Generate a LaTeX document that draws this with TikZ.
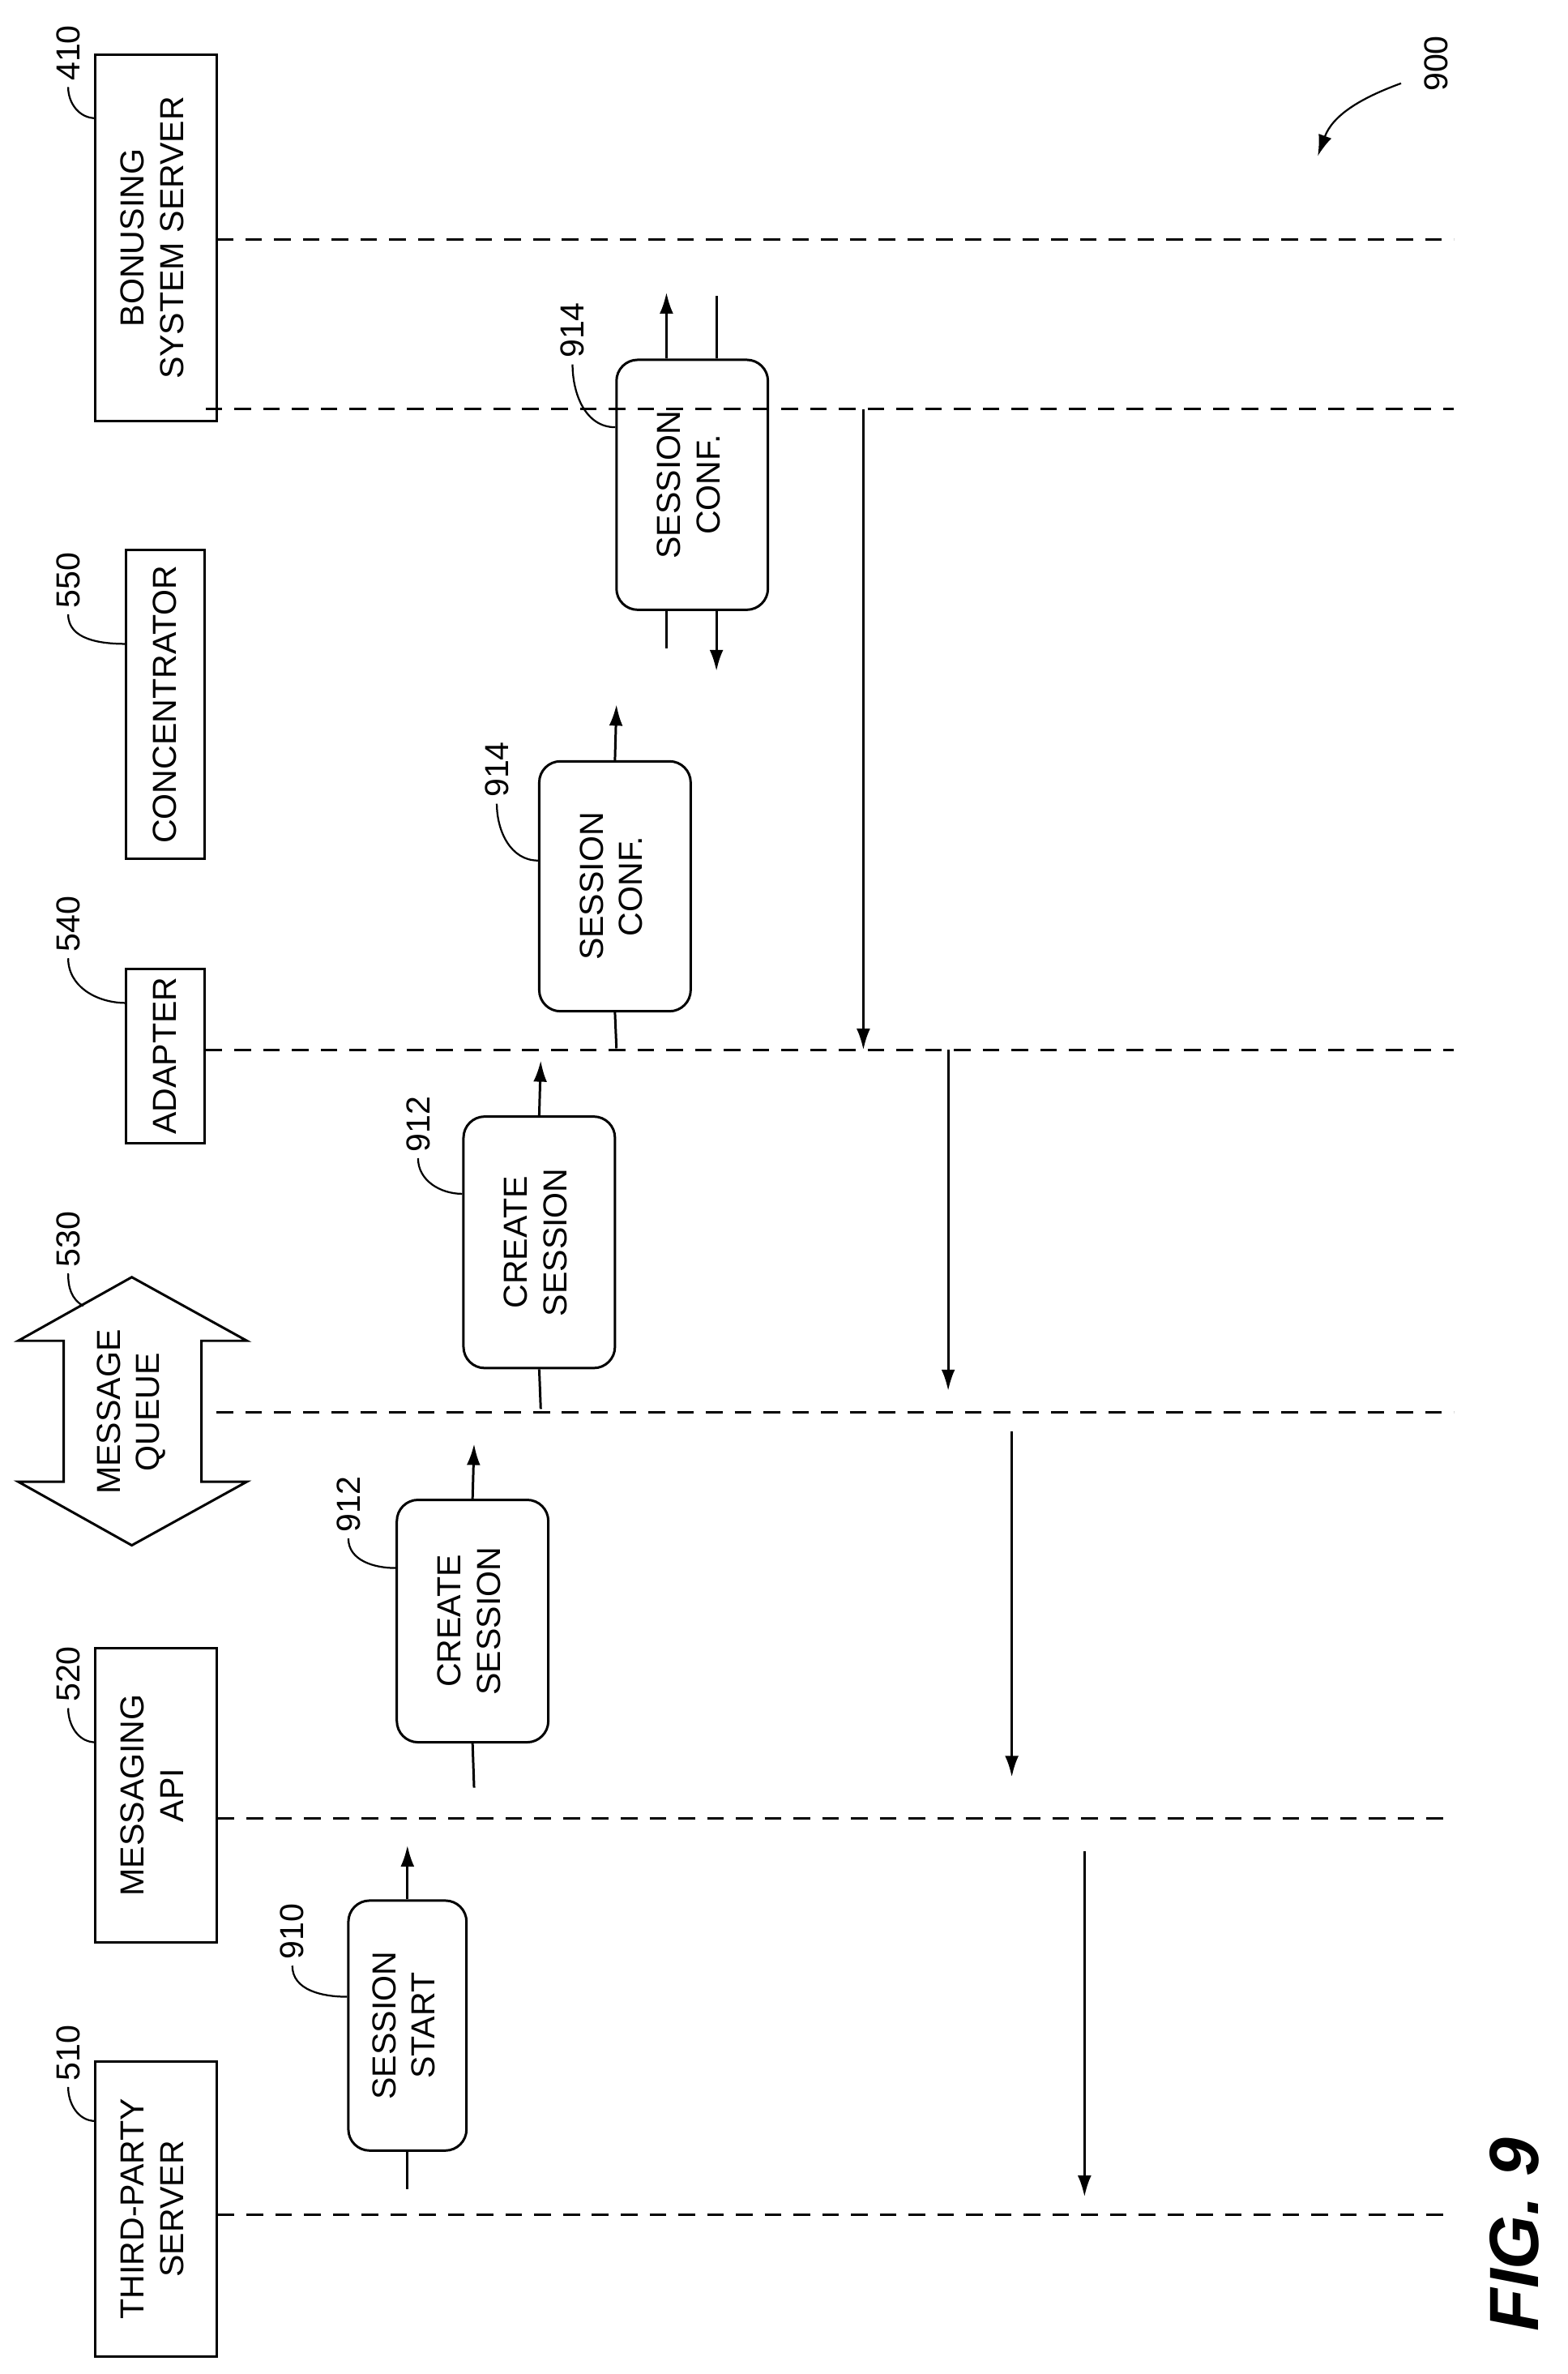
\documentclass[tikz,border=0pt]{standalone}
\usepackage{fontspec}
\setmainfont{Liberation Sans}
\usetikzlibrary{positioning,arrows.meta}
\begin{document}
\begin{tikzpicture}[
  x=1pt, y=-1pt,
  line width=1.6pt,
  >={Latex[length=14pt,width=9pt]},
  every node/.style={font=\fontsize{22}{26}\selectfont},
  entity/.style={draw, rectangle, inner sep=0pt},
  stepbox/.style={draw, rectangle, rounded corners=14pt, inner sep=0pt},
  lifeline/.style={dashed, dash pattern=on 11pt off 8pt},
  leader/.style={line width=1.2pt},
  refnum/.style={rotate=90}
  ]
  \useasboundingbox (0,0) rectangle (1035,1567);

  % --- entita' ---
  \node[entity, minimum width=80pt, minimum height=242pt] (b410) at (103,157)
    {\rotatebox{90}{\begin{tabular}{c}BONUSING\\SYSTEM SERVER\end{tabular}}};
  \node[entity, minimum width=52pt, minimum height=204pt] (b550) at (109,465)
    {\rotatebox{90}{CONCENTRATOR}};
  \node[entity, minimum width=52pt, minimum height=115pt] (b540) at (109,697)
    {\rotatebox{90}{ADAPTER}};
  \node[entity, minimum width=80pt, minimum height=194pt] (b520) at (103,1185)
    {\rotatebox{90}{\begin{tabular}{c}MESSAGING\\API\end{tabular}}};
  \node[entity, minimum width=80pt, minimum height=195pt] (b510) at (103,1458)
    {\rotatebox{90}{\begin{tabular}{c}THIRD-PARTY\\SERVER\end{tabular}}};

  % coda messaggi (doppia freccia)
  \draw (42,885) -- (12,885) -- (87,843) -- (163,885) -- (133,885) -- (133,978)
    -- (163,978) -- (87,1020) -- (12,978) -- (42,978) -- cycle;
  \node (b530) at (87,932)
    {\rotatebox{90}{\begin{tabular}{c}MESSAGE\\QUEUE\end{tabular}}};
  \coordinate (q530) at (143,932);

  % --- linee di vita ---
  \coordinate (e410) at (960,158);
  \coordinate (e550) at (960,270);
  \coordinate (e540) at (960,693);
  \coordinate (e530) at (960,932);
  \coordinate (e520) at (960,1200);
  \coordinate (e510) at (960,1462);
  \draw[lifeline] (143,158) -- (e410);
  \draw[lifeline] (b550.east |- e550) -- (e550);
  \draw[lifeline] (b540.east |- e540) -- (e540);
  \draw[lifeline] (q530) -- (e530);
  \draw[lifeline] (b520.east |- e520) -- (e520);
  \draw[lifeline] (b510.east |- e510) -- (e510);

  % --- numeri di riferimento ---
  \node[refnum] (n410) at (45,35) {410};
  \node[refnum] (n550) at (45,383) {550};
  \node[refnum] (n540) at (45,610) {540};
  \node[refnum] (n530) at (45,818) {530};
  \node[refnum] (n520) at (45,1105) {520};
  \node[refnum] (n510) at (45,1355) {510};
  \draw[leader] (n410.west) to[out=-90,in=180] (63,78);
  \draw[leader] (n550.west) to[out=-90,in=180] (83,425);
  \draw[leader] (n540.west) to[out=-90,in=180] (83,662);
  \draw[leader] (n530.west) to[out=-90,in=150] (55,862);
  \draw[leader] (n520.west) to[out=-90,in=180] (63,1150);
  \draw[leader] (n510.west) to[out=-90,in=180] (63,1400);

  \node[refnum] (n900) at (948,42) {900};
  \draw[leader, ->] (925,55) to[out=200,in=70] (870,103);

  % --- passi ---
  \node[stepbox, minimum width=78pt, minimum height=165pt] (s910) at (269,1337)
    {\rotatebox{90}{\begin{tabular}{c}SESSION\\START\end{tabular}}};
  \node[stepbox, minimum width=100pt, minimum height=160pt] (s912a) at (312,1070)
    {\rotatebox{90}{\begin{tabular}{c}CREATE\\SESSION\end{tabular}}};
  \node[stepbox, minimum width=100pt, minimum height=166pt] (s912b) at (356,820)
    {\rotatebox{90}{\begin{tabular}{c}CREATE\\SESSION\end{tabular}}};
  \node[stepbox, minimum width=100pt, minimum height=165pt] (s914a) at (406,585)
    {\rotatebox{90}{\begin{tabular}{c}SESSION\\CONF.\end{tabular}}};
  \node[stepbox, minimum width=100pt, minimum height=165pt] (s914b) at (457,320)
    {\rotatebox{90}{\begin{tabular}{c}SESSION\\CONF.\end{tabular}}};

  \coordinate (t910) at (269,1218);  \coordinate (u910) at (269,1445);
  \coordinate (t912a) at (313,953);  \coordinate (u912a) at (313,1180);
  \coordinate (t912b) at (357,700);  \coordinate (u912b) at (357,930);
  \coordinate (t914a) at (407,465);  \coordinate (u914a) at (407,692);
  \draw[->] (s910.north) -- (t910);   \draw (s910.south) -- (u910);
  \draw[->] (s912a.north) -- (t912a); \draw (s912a.south) -- (u912a);
  \draw[->] (s912b.north) -- (t912b); \draw (s912b.south) -- (u912b);
  \draw[->] (s914a.north) -- (t914a); \draw (s914a.south) -- (u914a);
  \coordinate (ta914) at (440,193); \coordinate (tb914) at (473,195);
  \coordinate (ua914) at (440,428); \coordinate (ub914) at (473,443);
  \draw[->] (s914b.north -| ta914) -- (ta914);
  \draw (s914b.north -| tb914) -- (tb914);
  \draw (s914b.south -| ua914) -- (ua914);
  \draw[->] (s914b.south -| ub914) -- (ub914);

  \node[refnum] (n910) at (193,1275) {910};
  \node[refnum] (n912a) at (230,993) {912};
  \node[refnum] (n912b) at (276,742) {912};
  \node[refnum] (n914a) at (328,508) {914};
  \node[refnum] (n914b) at (378,218) {914};
  \draw[leader] (n910.west) to[out=-90,in=180] (s910.west |- 0,1318);
  \draw[leader] (n912a.west) to[out=-90,in=180] (s912a.west |- 0,1035);
  \draw[leader] (n912b.west) to[out=-90,in=180] (s912b.west |- 0,788);
  \draw[leader] (n914a.west) to[out=-90,in=180] (s914a.west |- 0,568);
  \draw[leader] (n914b.west) to[out=-90,in=180] (s914b.west |- 0,282);

  % --- messaggi verticali ---
  \coordinate (m1a) at (570,270);  \coordinate (m1b) at (570,693);
  \coordinate (m2a) at (626,693);  \coordinate (m2b) at (626,918);
  \coordinate (m3a) at (668,945);  \coordinate (m3b) at (668,1173);
  \coordinate (m4a) at (716,1222); \coordinate (m4b) at (716,1450);
  \draw[->] (m1a) -- (m1b);
  \draw[->] (m2a) -- (m2b);
  \draw[->] (m3a) -- (m3b);
  \draw[->] (m4a) -- (m4b);

  % --- titolo ---
  \node[rotate=90, font=\fontsize{46}{50}\selectfont\bfseries\itshape] (fig) at (1000,1475) {FIG. 9};
\end{tikzpicture}
\end{document}
